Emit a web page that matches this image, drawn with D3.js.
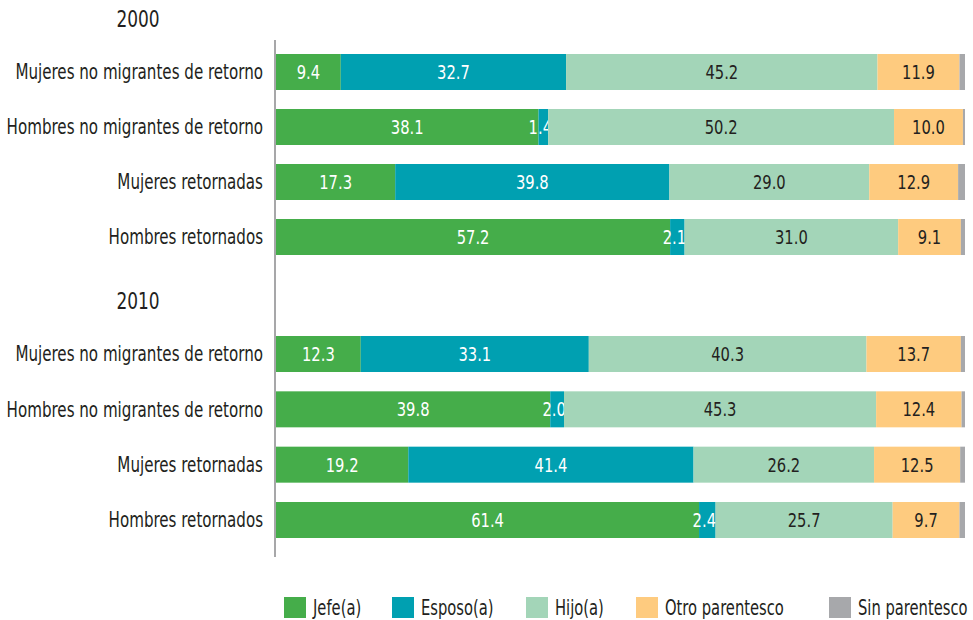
<!DOCTYPE html>
<html>
<head>
<meta charset="utf-8">
<script src="https://cdn.jsdelivr.net/npm/d3@7"></script>
<style>
  html, body { margin: 0; padding: 0; background: #fff; }
  svg { display: block; }
  text { font-family: "DejaVu Sans Condensed", "Liberation Sans Narrow", sans-serif; }
</style>
</head>
<body>
<svg id="chart" width="973" height="620"></svg>
<script>
// Household relationship shares (%), by group and census year
const years = ["2000", "2010"];
const categories = [
  "Mujeres no migrantes de retorno",
  "Hombres no migrantes de retorno",
  "Mujeres retornadas",
  "Hombres retornados"
];
const seriesNames = ["Jefe(a)", "Esposo(a)", "Hijo(a)", "Otro parentesco", "Sin parentesco"];

const jefe2000   = [9.4, 38.1, 17.3, 57.2];
const esposo2000 = [32.7, 1.4, 39.8, 2.1];
const hijo2000   = [45.2, 50.2, 29.0, 31.0];
const otro2000   = [11.9, 10.0, 12.9, 9.1];
const sin2000    = [0.8, 0.3, 1.0, 0.6];

const jefe2010   = [12.3, 39.8, 19.2, 61.4];
const esposo2010 = [33.1, 2.0, 41.4, 2.4];
const hijo2010   = [40.3, 45.3, 26.2, 25.7];
const otro2010   = [13.7, 12.4, 12.5, 9.7];
const sin2010    = [0.6, 0.5, 0.7, 0.8];

const colors = ["#45ad4a", "#00a0b1", "#a3d5b8", "#fecb7f", "#a7a8ab"];
const labelColors = ["#ffffff", "#ffffff", "#231f20", "#231f20", null];

const valuesByYear = {
  "2000": [jefe2000, esposo2000, hijo2000, otro2000, sin2000],
  "2010": [jefe2010, esposo2010, hijo2010, otro2010, sin2010]
};

const svg = d3.select("#chart");
const x = d3.scaleLinear().domain([0, 100]).range([276, 965]);
const color = d3.scaleOrdinal().domain(seriesNames).range(colors);
const barH = 36;

// narrow the glyphs horizontally (condensed look): move the anchor point
// into a transform and scale x around it
function condense(sel, factor) {
  sel.each(function () {
    const t = d3.select(this);
    const tx = +t.attr("x"), ty = +t.attr("y");
    t.attr("x", 0).attr("y", 0)
     .attr("transform", `translate(${tx},${ty}) scale(${factor},1)`);
  });
}

// vertical layout of the two year blocks
const blocks = [
  { year: "2000", titleY: 19, rows: [72, 237] },
  { year: "2010", titleY: 301, rows: [354, 520] }
];

blocks.forEach(b => {
  const y = d3.scalePoint().domain(categories).range(b.rows);
  const rows = categories.map((c, i) => {
    const r = { category: c };
    seriesNames.forEach((s, k) => { r[s] = valuesByYear[b.year][k][i]; });
    return r;
  });
  const stacked = d3.stack().keys(seriesNames)(rows);

  const g = svg.append("g");

  g.append("text")
    .attr("x", 138).attr("y", b.titleY)
    .attr("dy", "0.35em")
    .attr("text-anchor", "middle")
    .attr("font-size", 23)
    .attr("fill", "#231f20")
    .text(b.year)
    .call(condense, 0.82);

  // category labels
  g.selectAll("text.cat").data(categories).join("text")
    .attr("class", "cat")
    .attr("x", 263)
    .attr("y", d => y(d))
    .attr("dy", "0.35em")
    .attr("text-anchor", "end")
    .attr("font-size", 21)
    .attr("fill", "#231f20")
    .text(d => d)
    .call(condense, 0.8);

  stacked.forEach((layer, k) => {
    const lg = g.append("g");
    lg.selectAll("rect").data(layer).join("rect")
      .attr("x", d => x(d[0]))
      .attr("width", d => x(d[1]) - x(d[0]))
      .attr("y", d => y(d.data.category) - barH / 2)
      .attr("height", barH)
      .attr("fill", color(layer.key));
    if (labelColors[k]) {
      lg.selectAll("text").data(layer).join("text")
        .attr("x", d => (x(d[0]) + x(d[1])) / 2 - ((d[1] - d[0]) < 5 ? 3 : 0))
        .attr("y", d => y(d.data.category))
        .attr("dy", "0.35em")
        .attr("text-anchor", "middle")
        .attr("font-size", 20)
        .attr("fill", labelColors[k])
        .text(d => d3.format(".1f")(d[1] - d[0]))
        .call(condense, 0.82);
    }
  });
});

// vertical baseline
svg.append("line")
  .attr("x1", 275).attr("x2", 275)
  .attr("y1", 40).attr("y2", 557)
  .attr("stroke", "#8a8a8d")
  .attr("stroke-width", 1.5);

// legend
const legendX = [284, 392, 526, 636, 829];
const leg = svg.append("g");
seriesNames.forEach((s, k) => {
  leg.append("rect")
    .attr("x", legendX[k]).attr("y", 597)
    .attr("width", 22).attr("height", 21)
    .attr("fill", color(s));
  leg.append("text")
    .attr("x", legendX[k] + 29).attr("y", 607.5)
    .attr("dy", "0.35em")
    .attr("font-size", 21)
    .attr("fill", "#231f20")
    .text(s)
    .call(condense, 0.78);
});
</script>
</body>
</html>
